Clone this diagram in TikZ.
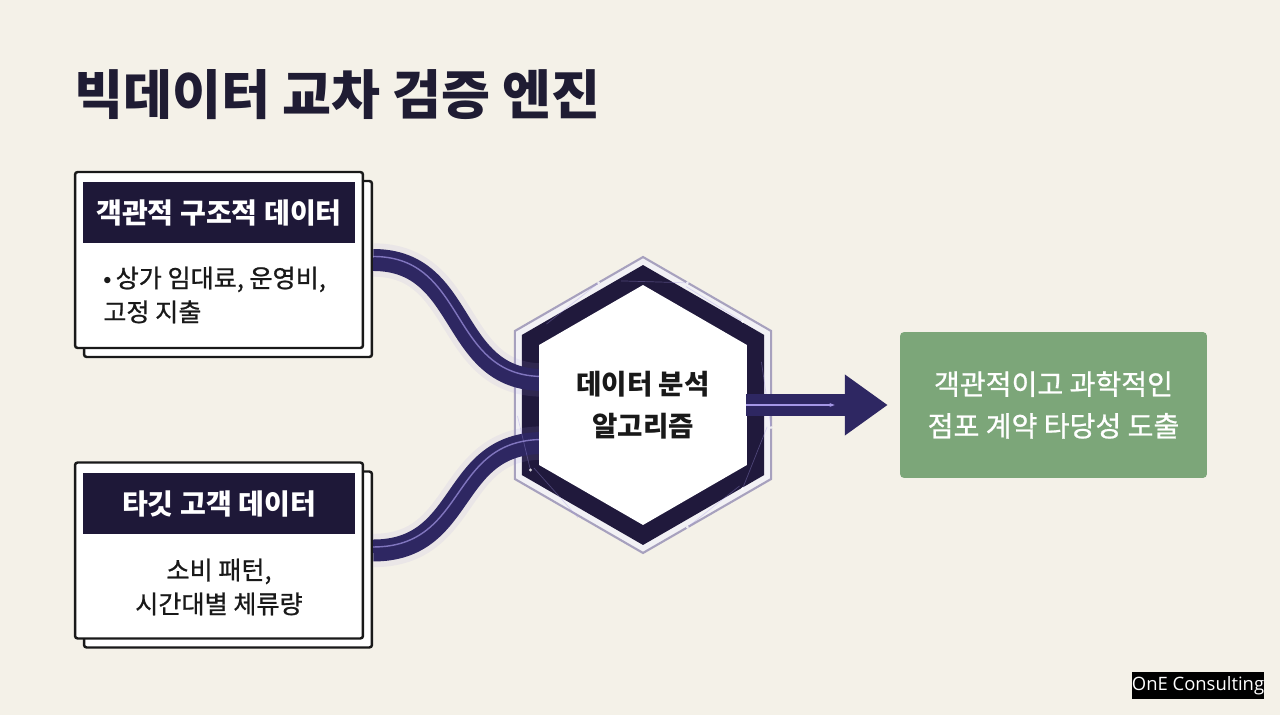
\documentclass[tikz,border=0pt]{standalone}
\usepackage{fontspec}
\setmainfont{Noto Sans CJK KR}
\newfontfamily\krmed[FakeBold=0.8]{Noto Sans CJK KR}
\newfontfamily\wmfont{Open Sans}
\usetikzlibrary{arrows.meta,shapes.geometric}
\definecolor{paper}{HTML}{F4F1E8}
\definecolor{ink}{HTML}{1F1C33}
\definecolor{navy}{HTML}{1E1838}
\definecolor{tube}{HTML}{2E2762}
\definecolor{glowc}{HTML}{A497E6}
\definecolor{ringc}{HTML}{A7A1BE}
\definecolor{sage}{HTML}{7CA679}

\begin{document}
\begin{tikzpicture}[x=0.02cm,y=-0.02cm,
    card/.style={draw=black!90, line width=1.4pt, fill=white, rounded corners=1.5pt,
      minimum width=5.76cm, minimum height=3.52cm, inner sep=0pt},
    head/.style={fill=navy, text=white, minimum width=5.44cm, minimum height=1.22cm,
      inner sep=0pt, font=\fontsize{16}{18}\selectfont\bfseries},
    body/.style={text=black!90, inner sep=0pt, font=\krmed\fontsize{14.3}{19.3}\selectfont},
    hex/.style={regular polygon, regular polygon sides=6, shape border rotate=30, inner sep=0pt},
    tubeline/.style={draw=tube, line width=12.5pt},
    glint/.style={draw=glowc, line width=0.8pt},
  ]
  \fill[paper] (0,0) rectangle (1280,715);
  \useasboundingbox (0,0) rectangle (1280,715);

  \node[anchor=west, text=ink, font=\fontsize{30.3}{34}\selectfont\bfseries] (title) at (68,95) {빅데이터 교차 검증 엔진};

  % input cards
  \node[card] (objshadow) at (228,269) {};
  \node[card] (objcard) at (219,260) {};
  \node[head] (objhead) at (219,212.5) {객관적 구조적 데이터};
  \node[body, anchor=west, align=left] (objtext) at (103,295) {\raisebox{1.5pt}{\small$\bullet$}\,상가 임대료, 운영비,\\고정 지출};

  \node[card] (tgtshadow) at (228,559.5) {};
  \node[card] (tgtcard) at (219,550.5) {};
  \node[head] (tgthead) at (219,503.5) {타깃 고객 데이터};
  \node[body, align=center] (tgttext) at (219,587) {소비 패턴,\\시간대별 체류량};

  % engine
  \node[hex, draw=ringc, line width=1.2pt, fill=white!85!ringc, minimum size=5.92cm] (hexring) at (643,405) {};
  \node[hex, fill=navy!90!tube, minimum size=5.6cm] (hexband) at (643,405) {};
  \coordinate (hexin1) at ([shift={(-100,-25)}]hexband.center);
  \coordinate (hexin2) at ([shift={(-100,38)}]hexband.center);
  \coordinate (hexout) at ([shift={(103,0)}]hexband.center);
  \coordinate (objout) at (objshadow.east |- objcard.east);
  \coordinate (tgtout) at (tgtshadow.east |- tgtcard.east);

  \draw[draw=glowc, line width=19pt, opacity=0.12] (objout) .. controls +(95,0) and +(-95,0) .. (hexin1);
  \draw[draw=glowc, line width=19pt, opacity=0.12] (tgtout) .. controls +(95,0) and +(-95,0) .. (hexin2);
  \draw[tubeline] (objout) .. controls +(95,0) and +(-95,0) .. (hexin1);
  \draw[tubeline] (tgtout) .. controls +(95,0) and +(-95,0) .. (hexin2);
  \draw[glint, opacity=0.7] ([yshift=2pt]objout) .. controls +(95,0) and +(-95,0) .. ([yshift=2pt]hexin1);
  \draw[glint, opacity=0.7] ([yshift=2pt]tgtout) .. controls +(95,0) and +(-95,0) .. ([yshift=2pt]hexin2);

  % faint network in the band
  \foreach \a/\b in {70/40, 40/10, 10/-20, -40/-70, -70/-100, -110/-140, 120/150, 150/175}
    \draw[glowc, opacity=0.35, line width=0.4pt] ([shift={(\a:130)}]hexband.center) -- ([shift={(\b:126)}]hexband.center);
  \foreach \a in {70,40,10,-40,-70,-110,150}
    \fill[white, opacity=0.8] ([shift={(\a:130)}]hexband.center) circle (1.6);

  \node[hex, fill=white, minimum size=4.8cm, align=center, text=black!90,
    font=\fontsize{15.7}{23.8}\selectfont\bfseries] (alg) at (643,405) {데이터 분석\\알고리즘};

  % result
  \node[fill=sage, rounded corners=2.3pt, minimum width=6.14cm, minimum height=2.92cm,
    align=center, text=white, font=\krmed\fontsize{16}{23.8}\selectfont] (result) at (1053.5,405)
    {객관적이고 과학적인\\점포 계약 타당성 도출};

  \draw[tubeline, -{Triangle[length=24.4pt,width=33pt]}, shorten >=6.8pt] (hexout) -- (result.west);
  \draw[glint, -{Stealth[length=3pt]}] (hexout) -- ([xshift=-1.3cm]result.west);

  \node[fill=black, text=white, minimum width=2.64cm, minimum height=0.54cm, inner sep=0pt,
    font=\wmfont\fontsize{10.5}{12}\selectfont] (brand) at (1198,685.5) {OnE Consulting};
\end{tikzpicture}
\end{document}
